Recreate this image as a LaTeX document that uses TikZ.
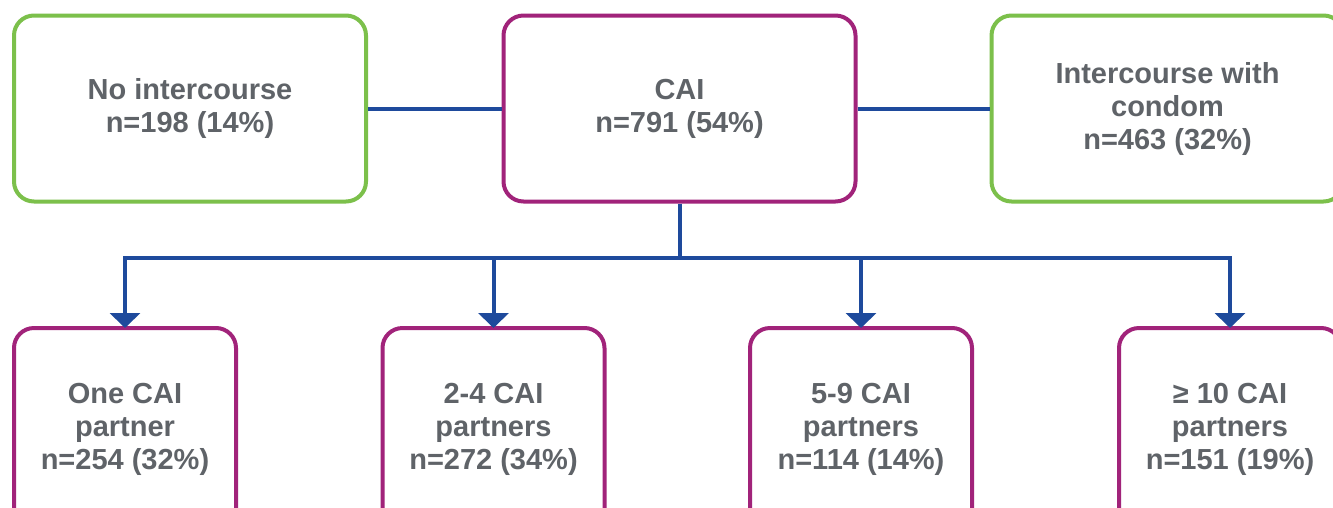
\documentclass[tikz,border=0pt]{standalone}
\usepackage{fontspec}
\setmainfont{Liberation Sans}
\usetikzlibrary{arrows.meta}
\definecolor{boxgreen}{HTML}{7CC04B}
\definecolor{boxpurple}{HTML}{A1237A}
\definecolor{linkblue}{HTML}{1E4A9C}
\definecolor{txtgray}{HTML}{5F6368}
\tikzset{
  box/.style={draw, line width=4pt, rounded corners=20pt, fill=white,
    align=center, text=txtgray, font=\fontsize{29}{33}\selectfont\bfseries, inner sep=0pt},
  topbox/.style={box, minimum width=352pt, minimum height=186pt},
  botbox/.style={box, draw=boxpurple, minimum width=222pt, minimum height=202pt},
  link/.style={draw=linkblue, line width=4pt, line join=miter},
  arr/.style={link, -{Triangle[width=30pt,length=15pt]}}
}
\begin{document}
\begin{tikzpicture}[x=1pt,y=-1pt]
\clip (0,0) rectangle (1333,507);
\fill[white] (0,0) rectangle (1333,507);
\node[topbox, draw=boxgreen] (none) at (190,108.5) {No intercourse\\n=198 (14\%)};
\node[topbox, draw=boxpurple] (cai) at (679.5,108.5) {CAI\\n=791 (54\%)};
\node[topbox, draw=boxgreen] (cond) at (1167.5,108.5) {Intercourse with\\condom\\n=463 (32\%)};
\node[botbox] (b1) at (125,429) {One CAI\\partner\\n=254 (32\%)};
\node[botbox] (b2) at (493.5,429) {2-4 CAI\\partners\\n=272 (34\%)};
\node[botbox] (b3) at (861,429) {5-9 CAI\\partners\\n=114 (14\%)};
\node[botbox] (b4) at (1230,429) {≥ 10 CAI\\partners\\n=151 (19\%)};
\coordinate (bus) at (679.5,258);
\draw[link] (none.east) -- (cai.west);
\draw[link] (cai.east) -- (cond.west);
\draw[link] (cai.south) -- (bus);
\draw[arr] (bus) -| ([yshift=-2pt]b1.north);
\draw[arr] (bus) -| ([yshift=-2pt]b2.north);
\draw[arr] (bus) -| ([yshift=-2pt]b3.north);
\draw[arr] (bus) -| ([yshift=-2pt]b4.north);
\end{tikzpicture}
\end{document}
